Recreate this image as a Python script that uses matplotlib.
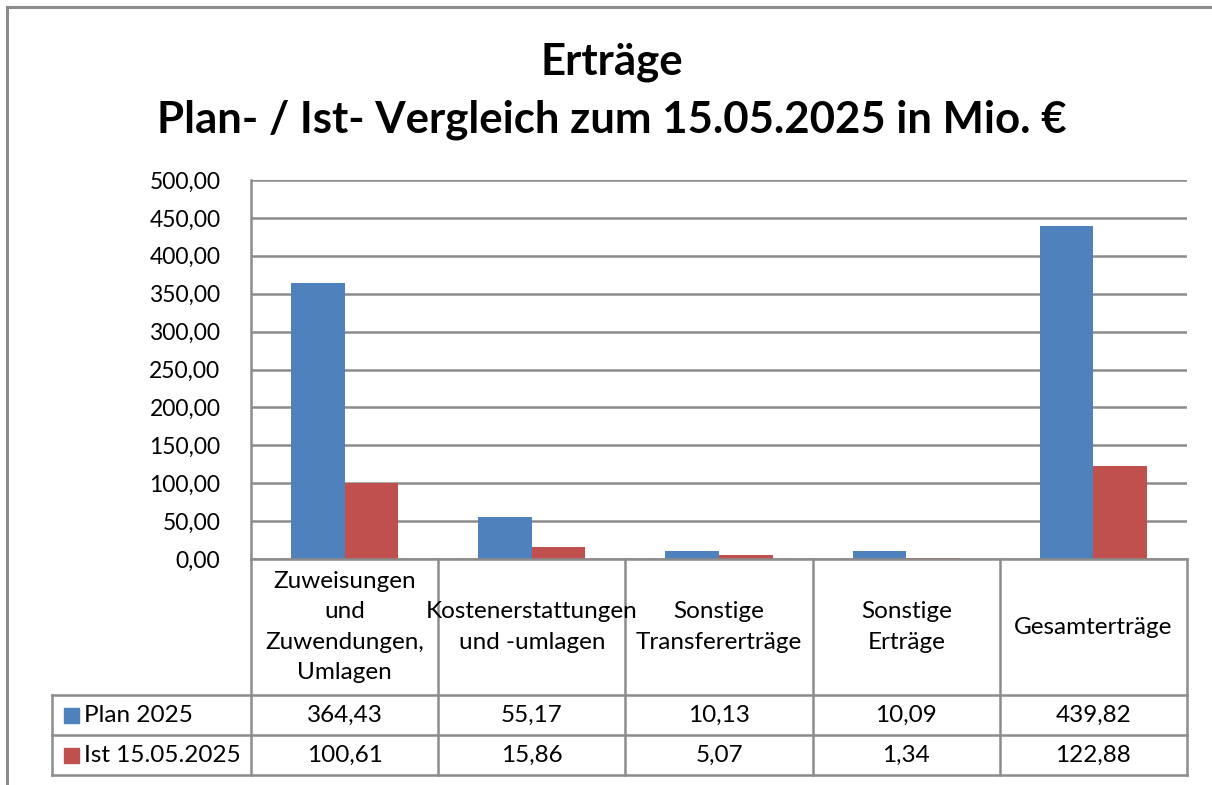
import matplotlib
matplotlib.use("Agg")
import matplotlib.pyplot as plt
from matplotlib.lines import Line2D
from matplotlib.patches import Rectangle
import numpy as np

plt.rcParams['font.family'] = ['Lato', 'DejaVu Sans']

categories = ["Zuweisungen\nund\nZuwendungen,\nUmlagen",
              "Kostenerstattungen\nund -umlagen",
              "Sonstige\nTransfererträge",
              "Sonstige\nErträge",
              "Gesamterträge"]
series_names = ["Plan 2025", "Ist 15.05.2025"]
plan_2025 = [364.43, 55.17, 10.13, 10.09, 439.82]
ist_2025 = [100.61, 15.86, 5.07, 1.34, 122.88]
y_ticks = [0, 50, 100, 150, 200, 250, 300, 350, 400, 450, 500]
title_lines = ["Erträge", "Plan- / Ist- Vergleich zum 15.05.2025 in Mio. €"]

colors = ["#4F81BD", "#C0504D"]
grid_c = "#8C8C8C"

W, H = 1212, 785
fig = plt.figure(figsize=(W / 100, H / 100), dpi=100)

def fx(px):
    return px / W

def fy(py):
    return 1 - py / H

# plot area
x0, x1, ytop, ybot = 251, 1187, 180, 559
ax = fig.add_axes([fx(x0), fy(ybot), fx(x1 - x0), (ybot - ytop) / H])
n = len(categories)
x = np.arange(n)
bw = 0.286
ax.bar(x - bw / 2, plan_2025, width=bw, color=colors[0], zorder=3)
ax.bar(x + bw / 2, ist_2025, width=bw, color=colors[1], zorder=3)
ax.set_xlim(-0.5, n - 0.5)
ax.set_ylim(0, 500)
ax.set_yticks(y_ticks)
ax.set_yticklabels([f"{v:.2f}".replace(".", ",") for v in y_ticks], fontsize=16.5)
ax.tick_params(axis='y', length=0, pad=22, colors="#000000")
ax.set_xticks([])
for v in y_ticks:
    ax.axhline(v, color=grid_c, lw=1.8, zorder=1)
for s in ["top", "right", "bottom"]:
    ax.spines[s].set_visible(False)
ax.spines["left"].set_color(grid_c)
ax.spines["left"].set_linewidth(1.8)

# outer chart border
fig.add_artist(Line2D([fx(7), fx(7)], [fy(7), 0], color="#8C8C8C", lw=2.2))
fig.add_artist(Line2D([fx(7), 1], [fy(7), fy(7)], color="#8C8C8C", lw=2.2))

# title
fig.text(fx(612), fy(62), title_lines[0], ha="center", va="center",
         fontsize=31.5, fontweight="bold")
fig.text(fx(612), fy(120), title_lines[1],
         ha="center", va="center", fontsize=31.5, fontweight="bold")

# data table
col_w = (x1 - x0) / n
row_y = [559, 695, 735, 775]
leg_x = 52
lc = "#8C8C8C"
lw = 1.8
fig.add_artist(Line2D([fx(x0), fx(x1)], [fy(559), fy(559)], color=lc, lw=lw))
for yy in row_y[1:]:
    fig.add_artist(Line2D([fx(leg_x), fx(x1)], [fy(yy), fy(yy)], color=lc, lw=lw))
for i in range(n + 1):
    xx = x0 + i * col_w
    fig.add_artist(Line2D([fx(xx), fx(xx)], [fy(559), fy(775)], color=lc, lw=lw))
fig.add_artist(Line2D([fx(leg_x), fx(leg_x)], [fy(695), fy(775)], color=lc, lw=lw))

fs = 17.5
for i, cat in enumerate(categories):
    cx = x0 + (i + 0.5) * col_w
    fig.text(fx(cx), fy(627), cat, ha="center", va="center", fontsize=fs,
             linespacing=1.55)
    fig.text(fx(cx), fy(715), f"{plan_2025[i]:.2f}".replace(".", ","),
             ha="center", va="center", fontsize=fs)
    fig.text(fx(cx), fy(755), f"{ist_2025[i]:.2f}".replace(".", ","),
             ha="center", va="center", fontsize=fs)

for j, name in enumerate(series_names):
    yc = (row_y[j + 1] + row_y[j + 2]) / 2
    fig.add_artist(Rectangle((fx(64), fy(yc + 7.5)), fx(15), 15 / H,
                             color=colors[j], transform=fig.transFigure))
    fig.text(fx(84), fy(yc), name, ha="left", va="center", fontsize=fs)

fig.savefig("out.png", dpi=100)
